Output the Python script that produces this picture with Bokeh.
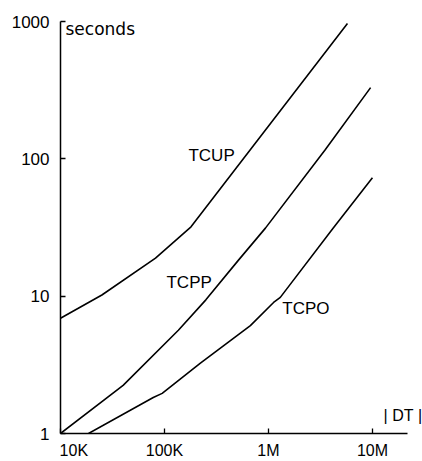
from bokeh.plotting import figure
from bokeh.models import FixedTicker, Label
from bokeh.embed import file_html
from bokeh.resources import INLINE

# data
tcup_x = [1e4, 2.5e4, 8.2e4, 1.8e5, 5.75e6]
tcup_y = [6.9, 10.2, 18.9, 32, 966]

tcpp_x = [1e4, 4e4, 1.36e5, 2.5e5, 5.15e5, 9.35e5, 3.5e6, 9.6e6]
tcpp_y = [1.0, 2.24, 5.65, 9.4, 18.3, 31.3, 116, 330]

tcpo_x = [1.86e4, 7.8e4, 9.5e4, 2.2e5, 6.7e5, 1.12e6, 1.3e6, 4.2e6, 1e7]
tcpo_y = [1.0, 1.83, 1.96, 3.24, 6.1, 9.0, 9.8, 31.4, 72.7]

x_ticks = [1e4, 1e5, 1e6, 1e7]
x_tick_labels = ["\u00a0" * 6 + "10K", "100K", "1M", "10M"]
y_ticks = [1, 10, 100, 1000]
y_tick_labels = ["1", "10", "100", "1000"]

FONT = "Liberation Sans"

p = figure(width=422, height=461, x_axis_type="log", y_axis_type="log",
           x_range=(1e4, 3.03e7), y_range=(1, 1000),
           output_backend="svg", toolbar_location=None,
           min_border_left=60, min_border_right=0,
           min_border_top=21, min_border_bottom=28)
p.outline_line_color = None
p.xgrid.visible = False
p.ygrid.visible = False
p.background_fill_color = "white"
p.border_fill_color = "white"

for xs, ys in [(tcup_x, tcup_y), (tcpp_x, tcpp_y), (tcpo_x, tcpo_y)]:
    p.line(xs, ys, line_color="black", line_width=1.6)

p.xaxis.ticker = FixedTicker(ticks=x_ticks)
p.yaxis.ticker = FixedTicker(ticks=y_ticks)
p.xaxis.major_label_overrides = {t: l for t, l in zip(x_ticks, x_tick_labels)}
p.yaxis.major_label_overrides = {t: l for t, l in zip(y_ticks, y_tick_labels)}
p.xaxis.bounds = (1e4, 2.17e7)

for ax in (p.xaxis[0], p.yaxis[0]):
    ax.axis_line_color = "black"
    ax.axis_line_width = 1.5
    ax.major_tick_line_color = "black"
    ax.major_tick_line_width = 1.3
    ax.major_tick_in = 5
    ax.major_tick_out = 0
    ax.minor_tick_line_color = None
    ax.major_label_text_font = FONT
    ax.major_label_text_color = "black"
p.xaxis.major_label_text_font_size = "16px"
p.yaxis.major_label_text_font_size = "17px"
p.xaxis.major_label_standoff = 8
p.yaxis.major_label_standoff = 11

lab_style = dict(text_font=FONT, text_font_size="17px", text_color="black",
                 text_baseline="middle", text_align="left")
p.add_layout(Label(x=1.7e5, y=106, text="TCUP", **lab_style))
p.add_layout(Label(x=1.045e5, y=12.6, text="TCPP", **lab_style))
p.add_layout(Label(x=1.36e6, y=8.2, text="TCPO", **lab_style))
p.add_layout(Label(x=1.117e4, y=889, text="seconds", text_font="DejaVu Sans",
                   text_font_size="17px", text_color="black",
                   text_baseline="middle", text_align="left"))
p.add_layout(Label(x=1.28e7, y=1.35, text="|\u00a0DT\u00a0|", text_font=FONT,
                   text_font_size="16px", text_color="black",
                   text_baseline="middle", text_align="left"))

open("out.html", "w").write(file_html(p, INLINE))
